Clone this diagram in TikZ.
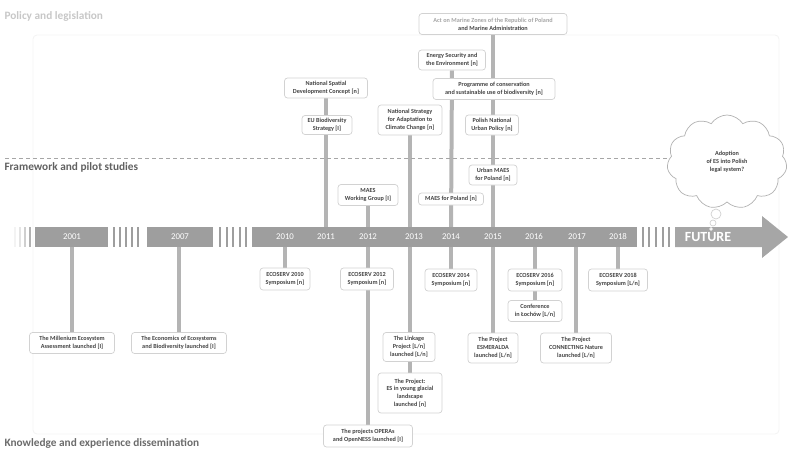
\documentclass[tikz,border=0pt]{standalone}
\usepackage{fontspec}
\setmainfont{Carlito}
\usetikzlibrary{shapes.symbols}
\pgfdeclarelayer{bg}
\pgfsetlayers{bg,main}
\definecolor{barc}{HTML}{9E9E9E}
\definecolor{linec}{HTML}{B4B4B4}
\definecolor{boxb}{HTML}{D2D2D2}
\definecolor{txt}{HTML}{444444}
\definecolor{framec}{HTML}{F3F3F3}
\begin{document}
\begin{tikzpicture}[x=1pt,y=-1pt,
  evbox/.style={draw=boxb, line width=0.7pt, rounded corners=3pt, fill=white, text=txt,
    align=center, font=\bfseries\fontsize{6.2}{7.8}\selectfont, inner sep=1.5pt},
  tl/.style={draw=linec, line width=4pt},
  yr/.style={text=white, font=\fontsize{8.8}{10}\selectfont},
  seclabel/.style={anchor=west, font=\bfseries\fontsize{11.3}{13}\selectfont},
  bubble/.style={circle, draw=boxb, fill=white, line width=0.7pt, inner sep=0pt}]
\useasboundingbox (0,0) rectangle (788,450);
% faint frame
\begin{pgfonlayer}{bg}
\draw[framec, line width=0.8pt, rounded corners=4pt] (33,35) rectangle (779,434);
\end{pgfonlayer}

% section labels
\node[seclabel, text=black!22] (sec1) at (1,16) {Policy and legislation};
\node[seclabel, text=black!62] (sec2) at (1,167) {Framework and pilot studies};
\node[seclabel, text=black!58] (sec3) at (1,443) {Knowledge and experience dissemination};
\draw[black!35, line width=0.9pt, dash pattern=on 4pt off 3pt] (5,158) -- (668,158);

% timeline coordinates
\foreach \n/\x in {2001/72,2007/179,2010/285,2011/326,2012/368,2013/410,2014/451,2015/493,2016/535,2017/576,2018/618}{
  \coordinate (t\n) at (\x,227);
  \coordinate (b\n) at (\x,247);
}

% boxes (top)
\node[evbox, minimum width=148pt, minimum height=21pt] (act) at (493,24)
  {{\color{black!35}Act on Marine Zones of the Republic of Poland}\\and Marine Administration};
\node[evbox, minimum width=67pt, minimum height=20pt] (energy) at (452,60)
  {Energy Security and\\the Environment [n]};
\node[evbox, minimum width=122pt, minimum height=21pt] (prog) at (494,89)
  {Programme of conservation\\and sustainable use of biodiversity [n]};
\node[evbox, minimum width=83pt, minimum height=20pt] (nsdc) at (326,88)
  {National Spatial\\Development Concept [n]};
\node[evbox, minimum width=50pt, minimum height=19pt] (eubio) at (327,125)
  {EU Biodiversity\\Strategy [I]};
\node[evbox, minimum width=64pt, minimum height=30pt] (nsacc) at (410,120)
  {National Strategy\\for Adaptation to\\Climate Change [n]};
\node[evbox, minimum width=53pt, minimum height=20pt] (pnup) at (492,125)
  {Polish National\\Urban Policy [n]};
\node[evbox, minimum width=48pt, minimum height=20pt] (umaes) at (493,175)
  {Urban MAES\\for Poland [n]};
\node[evbox, minimum width=60pt, minimum height=21pt] (maeswg) at (368,195)
  {MAES\\Working Group [I]};
\node[evbox, minimum width=65pt, minimum height=12pt] (maespl) at (451,199)
  {MAES for Poland [n]};

% boxes (bottom)
\node[evbox, minimum width=85pt, minimum height=21pt] (mill) at (72,343)
  {The Millenium Ecosystem\\Assessment launched [I]};
\node[evbox, minimum width=95pt, minimum height=21pt] (teeb) at (179,343)
  {The Economics of Ecosystems\\and Biodiversity launched [I]};
\node[evbox, minimum width=50pt, minimum height=22pt] (eco10) at (285,279)
  {ECOSERV 2010\\Symposium [n]};
\node[evbox, minimum width=53pt, minimum height=22pt] (eco12) at (367,279)
  {ECOSERV 2012\\Symposium [n]};
\node[evbox, minimum width=89pt, minimum height=22pt] (opera) at (368,436)
  {The projects OPERAs\\and OpenNESS launched [I]};
\node[evbox, minimum width=52pt, minimum height=29pt] (linkage) at (409,347)
  {The Linkage\\Project [L/n]\\launched [L/n]};
\node[evbox, minimum width=64pt, minimum height=40pt] (glacial) at (410,393)
  {The Project:\\ES in young glacial\\landscape\\launched [n]};
\node[evbox, minimum width=52pt, minimum height=22pt] (eco14) at (451,280)
  {ECOSERV 2014\\Symposium [n]};
\node[evbox, minimum width=50pt, minimum height=30pt] (esme) at (493,348)
  {The Project\\ESMERALDA\\launched [L/n]};
\node[evbox, minimum width=54pt, minimum height=22pt] (eco16) at (535,280)
  {ECOSERV 2016\\Symposium [n]};
\node[evbox, minimum width=54pt, minimum height=21pt] (conf) at (535,311)
  {Conference\\in Łochów [L/n]};
\node[evbox, minimum width=71pt, minimum height=30pt] (connect) at (576,348)
  {The Project\\CONNECTING Nature\\launched [L/n]};
\node[evbox, minimum width=59pt, minimum height=22pt] (eco18) at (618,280)
  {ECOSERV 2018\\Symposium [L/n]};

% connectors (behind boxes)
\begin{pgfonlayer}{bg}
\draw[tl] (nsdc.south) -- (t2011);
\draw[tl] (maeswg.south) -- (t2012);
\draw[tl] (nsacc.south) -- (t2013);
\draw[tl] (energy.south) -- (t2014);
\draw[tl] (act.south) -- (t2015);
\draw[tl] (b2001) -- (mill.north);
\draw[tl] (b2007) -- (teeb.north);
\draw[tl] (b2010) -- (eco10.north);
\draw[tl] (b2012) -- (opera.north);
\draw[tl] (b2013) -- (glacial.north);
\draw[tl] (b2014) -- (eco14.north);
\draw[tl] (b2015) -- (esme.north);
\draw[tl] (b2016) -- (conf.north);
\draw[tl] (b2017) -- (connect.north);
\draw[tl] (b2018) -- (eco18.north);
\end{pgfonlayer}

% timeline bar
\foreach \x/\c in {15/12,20/28,25/50,30/80}{\fill[barc!\c!white] (\x-1,227) rectangle (\x+1.2,247);}
\fill[barc] (35,227) rectangle (108,247);
\foreach \x in {114,120,126,132,138}{\fill[barc] (\x-1,227) rectangle (\x+1.2,247);}
\fill[barc] (147,227) rectangle (213,247);
\foreach \x in {220,227,233,240,246}{\fill[barc] (\x-1,227) rectangle (\x+1.2,247);}
\fill[barc] (252,227) rectangle (637,247);
\foreach \x in {643,649,656,663,669}{\fill[barc] (\x-1,227) rectangle (\x+1.2,247);}
\fill[barc!92] (675,227) -- (762,227) -- (762,216) -- (788,237) -- (762,258) -- (762,247) -- (675,247) -- cycle;

\node[yr] (y2001) at (72,237) {2001};
\node[yr] (y2007) at (180,237) {2007};
\node[yr] (y2010) at (285,237) {2010};
\node[yr] (y2011) at (326,237) {2011};
\node[yr] (y2012) at (368,237) {2012};
\node[yr] (y2013) at (414,237) {2013};
\node[yr] (y2014) at (451,237) {2014};
\node[yr] (y2015) at (493,237) {2015};
\node[yr] (y2016) at (534,237) {2016};
\node[yr] (y2017) at (577,237) {2017};
\node[yr] (y2018) at (618,237) {2018};
\node[text=white, font=\bfseries\fontsize{14}{16}\selectfont] (future) at (708,237.5) {FUTURE};

% cloud
\node[cloud, cloud puffs=11, cloud puff arc=115, aspect=1.35, draw=black!30, fill=white,
  line width=0.7pt, minimum width=120pt, minimum height=94pt, text=txt, align=center,
  font=\bfseries\fontsize{6.2}{7.8}\selectfont] (cloud) at (727,162)
  {Adoption\\of ES into Polish\\legal system?};
\node[bubble, minimum size=10pt] (bub1) at (716,214) {};
\node[bubble, minimum size=6pt] (bub2) at (713,223) {};
\node[bubble, minimum size=3.5pt] (bub3) at (711,229) {};
\end{tikzpicture}
\end{document}
